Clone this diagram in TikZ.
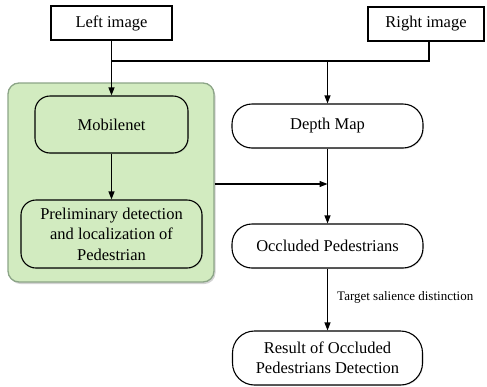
\documentclass[tikz,border=0pt]{standalone}
\usepackage{fontspec}
\setmainfont{Liberation Serif}
\usetikzlibrary{arrows.meta,shadows}
\definecolor{gfill}{RGB}{210,235,192}
\definecolor{gedge}{RGB}{140,165,135}
\tikzset{
  every node/.style={font=\fontsize{16.5}{20.5}\selectfont, inner sep=0pt},
  sqbox/.style={draw=black, line width=1.1pt, fill=white, rectangle},
  pill/.style={draw=black, line width=1.1pt, rectangle, align=center,
    drop shadow={opacity=0.15, shadow xshift=1pt, shadow yshift=-1pt}},
  conn/.style={line width=1.1pt, draw=black},
  arr/.style={conn, -{Triangle[length=8pt,width=6pt]}},
}
\begin{document}
\begin{tikzpicture}[x=1pt,y=-1pt]
\useasboundingbox (0,0) rectangle (487,386);
% green group
\node[draw=gedge, line width=1.3pt, fill=gfill, rounded corners=11pt,
  minimum width=206pt, minimum height=199pt,
  drop shadow={opacity=0.35, shadow xshift=1.5pt, shadow yshift=-2pt}]
  (grp) at (111,182.5) {};
% top boxes
\node[sqbox, minimum width=121pt, minimum height=34pt] (left) at (111.5,23) {Left image};
\node[sqbox, minimum width=116pt, minimum height=34pt] (right) at (426,24) {Right image};
% inner boxes
\node[pill, fill=gfill, rounded corners=15pt, minimum width=153pt, minimum height=57pt] (mob) at (111.5,124.5) {Mobilenet};
\node[pill, fill=gfill, rounded corners=15pt, minimum width=181pt, minimum height=68pt] (pre) at (111.5,234) {Preliminary detection\\and localization of\\Pedestrian};
\node[pill, fill=white, rounded corners=20pt, minimum width=191pt, minimum height=44pt] (depth) at (327.5,126) {Depth Map};
\node[pill, fill=white, rounded corners=20pt, minimum width=191pt, minimum height=44pt] (occ) at (327.5,246) {Occluded Pedestrians};
\node[pill, fill=white, rounded corners=22pt, minimum width=190pt, minimum height=54pt] (res) at (327.5,358) {Result of Occluded\\Pedestrians Detection};
\node[anchor=west, font=\fontsize{13}{15}\selectfont] (lab) at (337,297) {Target salience distinction};
% connectors
\coordinate (jl) at (111.5,61);
\coordinate (jr) at (429,61);
\coordinate (jm) at (327.5,61);
\coordinate (jg) at (327.5,184);
\draw[conn] (right.south -| jr) -- (jr) -- (jl);
\draw[arr] (left.south) -- (mob.north);
\draw[arr] (jm) -- (depth.north);
\draw[arr] (mob.south) -- (pre.north);
\draw[arr] (grp.east |- jg) -- (jg);
\draw[arr] (depth.south) -- (occ.north);
\draw[arr] (occ.south) -- (res.north);
\end{tikzpicture}
\end{document}
